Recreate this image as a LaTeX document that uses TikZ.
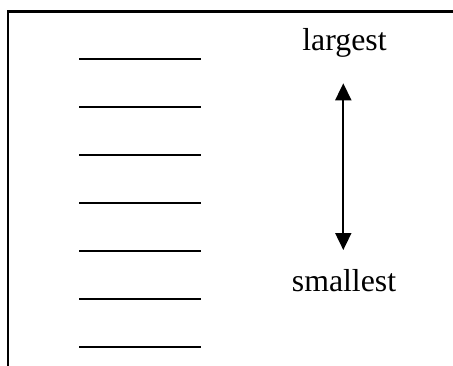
\documentclass[tikz,border=0pt]{standalone}
\usepackage{fontspec}
\setmainfont{Liberation Serif}
\usetikzlibrary{arrows.meta}
\begin{document}
\begin{tikzpicture}[x=1pt,y=-1pt,
  frameline/.style={line width=2.3pt},
  blank/.style={line width=2pt},
  label/.style={font=\fontsize{31.8}{36}\selectfont, inner sep=0pt, anchor=base},
  dblarrow/.style={line width=1.8pt, {Triangle[length=17pt,width=16pt]}-{Triangle[length=17pt,width=16pt]}}]
\useasboundingbox (0,0) rectangle (453,365);
% frame
\coordinate (fb) at (8,370);
\coordinate (fc) at (8,11.5);
\coordinate (fr) at (460,11.5);
\draw[frameline] (fb) -- (fc) -- (fr);
% blank lines
\foreach \i/\y in {1/59.3,2/107.3,3/155.3,4/203.3,5/251.3,6/299.3,7/347.3}{
  \coordinate (l\i a) at (79,\y);
  \coordinate (l\i b) at (201,\y);
  \draw[blank] (l\i a) -- (l\i b);
}
% labels
\node[label] (largest) at (344.5,50.7) {largest};
\node[label] (smallest) at (344,291) {smallest};
% arrow
\coordinate (atop) at (343.3,83.3);
\coordinate (abot) at (343.3,250);
\draw[dblarrow] (atop) -- (abot);
\end{tikzpicture}
\end{document}
